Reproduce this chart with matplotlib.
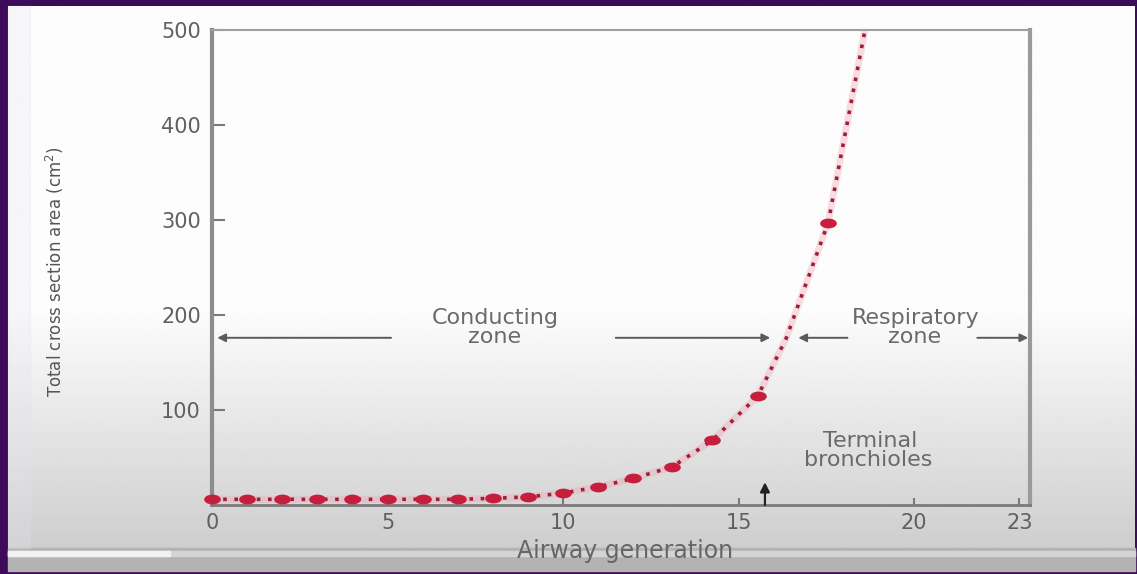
import numpy as np
import matplotlib
matplotlib.use("Agg")
import matplotlib.pyplot as plt
from matplotlib.patches import Rectangle
from matplotlib.path import Path
from matplotlib.transforms import Affine2D

# data
marker_gen = [0, 1, 2, 3, 4, 5, 6, 7, 8, 9, 10, 11, 12, 13.1, 14.25, 15.55, 17.55]
marker_area = [6, 6, 6, 6, 6, 6, 6, 6, 7, 8.5, 12.5, 19, 28, 40, 68, 115, 297]
# the dotted curve also passes these points (crossing the zone arrows, leaving the top)
curve_gen = marker_gen[:16] + [16.35] + marker_gen[16:] + [18.6]
curve_area = marker_area[:16] + [175] + marker_area[16:] + [500]

x_ticks = [0, 5, 10, 15, 20, 23]
y_ticks = [100, 200, 300, 400, 500]

W, H = 1137, 574
fig = plt.figure(figsize=(W / 100, H / 100), dpi=100)
plt.rcParams['font.family'] = ['DejaVu Sans']

# --- background: purple frame, light panel with grey gradient, player bar
bg = fig.add_axes([0, 0, 1, 1])
bg.set_xlim(0, W)
bg.set_ylim(H, 0)
bg.axis('off')
bg.add_patch(Rectangle((0, 0), W, H, color='#3c0b5a', zorder=0))
grad = np.ones((300, 1))
rows = np.linspace(6, 571, 300)
grad[:, 0] = np.where(rows < 310, 0.99, 0.99 - (rows - 310) / (545 - 310) * 0.18)
bg.imshow(grad, cmap='gray', vmin=0, vmax=1, aspect='auto',
          extent=[8, 1135, 571, 6], zorder=1)
bg.add_patch(Rectangle((8, 548), 1127, 23, color='#b3b3b3', zorder=2))
bg.add_patch(Rectangle((8, 551), 1127, 5, color='#d4d4d4', zorder=3))
bg.add_patch(Rectangle((8, 551), 162, 5, color='#f2f2f2', zorder=4))
bg.add_patch(Rectangle((8, 6), 22, 542, color='#e4e2ee', alpha=0.25, zorder=2))

# --- main chart
ax = fig.add_axes([212 / W, 69 / H, (1030 - 212) / W, (505 - 30) / H])
ax.patch.set_alpha(0)
ax.set_xlim(0, 23.3)
ax.set_ylim(0, 500)

ellipse = Path.unit_circle().transformed(Affine2D().scale(1.7, 1.0))

ax.plot(curve_gen, curve_area, color='#f2a0b4', lw=5, alpha=0.35,
        solid_capstyle='round', zorder=2)
ax.plot(curve_gen, curve_area, color='#9c2038', lw=2.6,
        linestyle=(0, (1.0, 2.1)), zorder=3)
ax.plot(marker_gen, marker_area, linestyle='none', marker=ellipse,
        markersize=12, color='#c81e3e', markeredgewidth=0, zorder=4,
        clip_on=False)

ax.set_xticks(x_ticks)
ax.set_yticks(y_ticks)
ax.tick_params(axis='both', direction='in', colors='#7a7a7a',
               labelcolor='#606060', labelsize=15)
ax.tick_params(axis='y', length=9, width=1.5, pad=8)
ax.tick_params(axis='x', length=5, width=1.5, pad=6)

for side, lw, col in [('left', 3, '#8c8c8c'), ('bottom', 2, '#7a7a7a'),
                      ('top', 1.5, '#a0a0a0'), ('right', 3, '#9a9a9a')]:
    ax.spines[side].set_linewidth(lw)
    ax.spines[side].set_color(col)

# zone arrows
arrow_kw = dict(arrowstyle='-|>', color='#5a5a5a', lw=1.4,
                mutation_scale=12, shrinkA=0, shrinkB=0)
zone_y = 176
for tail, head in [(5.1, 0.15), (11.5, 15.9), (18.1, 16.7), (21.8, 23.25)]:
    ax.annotate('', xy=(head, zone_y), xytext=(tail, zone_y),
                arrowprops=arrow_kw, zorder=1)

txt_kw = dict(color='#6a6a6a', fontsize=16, ha='center', va='center')
ax.text(8.06, 197, 'Conducting', **txt_kw)
ax.text(8.06, 177, 'zone', **txt_kw)
ax.text(20.05, 197, 'Respiratory', **txt_kw)
ax.text(20.0, 177, 'zone', **txt_kw)
ax.text(18.75, 67, 'Terminal', **txt_kw)
ax.text(18.7, 47, 'bronchioles', **txt_kw)

# terminal bronchioles arrow
ax.annotate('', xy=(15.75, 24), xytext=(15.75, 0),
            arrowprops=dict(arrowstyle='-|>', color='#222222', lw=1.6,
                            mutation_scale=14, shrinkA=0, shrinkB=0))

fig.text(55 / W, 1 - 272 / H, 'Total cross section area (cm$^2$)',
         rotation=90, ha='center', va='center', fontsize=12,
         color='#555555')
fig.text(625 / W, 1 - 551 / H, 'Airway generation', ha='center',
         va='center', fontsize=17, color='#666666')

fig.savefig('out.png', dpi=100)
